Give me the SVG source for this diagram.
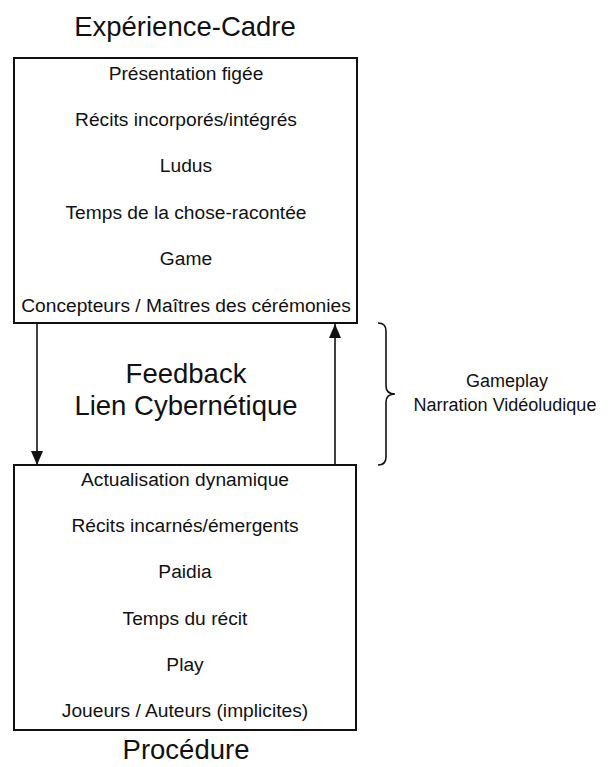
<svg xmlns="http://www.w3.org/2000/svg" width="608" height="767" viewBox="0 0 608 767">
<style>
text{font-family:"Liberation Sans",Arial,sans-serif;fill:#111;text-anchor:middle}
.item{font-size:19.2px}
.title{font-size:27.5px}
.side{font-size:18px}
.box{fill:#fff;stroke:#111;stroke-width:2}
.conn{stroke:#111;stroke-width:1.6;fill:none}
</style>
<defs>
<marker id="ah" viewBox="0 0 14 12" refX="14" refY="6" markerWidth="14" markerHeight="12" markerUnits="userSpaceOnUse" orient="auto">
<path d="M0,0 L14,6 L0,12 Z" fill="#111"/>
</marker>
</defs>
<rect width="608" height="767" fill="#fff"/>
<g id="top">
<text class="title" x="185" y="36">Expérience-Cadre</text>
<rect class="box" x="14" y="58" width="343" height="265"/>
<text class="item" x="186" y="80">Présentation figée</text>
<text class="item" x="186" y="126">Récits incorporés/intégrés</text>
<text class="item" x="186" y="172">Ludus</text>
<text class="item" x="186" y="219">Temps de la chose-racontée</text>
<text class="item" x="186" y="265">Game</text>
<text class="item" x="186" y="312">Concepteurs / Maîtres des cérémonies</text>
</g>
<g id="bottom">
<rect class="box" x="14" y="465" width="342" height="265"/>
<text class="item" x="185" y="486">Actualisation dynamique</text>
<text class="item" x="185" y="532">Récits incarnés/émergents</text>
<text class="item" x="185" y="578">Paidia</text>
<text class="item" x="185" y="625">Temps du récit</text>
<text class="item" x="185" y="671">Play</text>
<text class="item" x="185" y="717">Joueurs / Auteurs (implicites)</text>
<text class="title" x="186" y="759">Procédure</text>
</g>
<g id="feedback">
<text class="title" x="186" y="383">Feedback</text>
<text class="title" x="186" y="415">Lien Cybernétique</text>
</g>
<g id="gameplay">
<path class="conn" d="M378,323 Q386,323 386,331 L386,386 Q386,394 395,394 Q386,394 386,402 L386,457 Q386,465 378,465"/>
<text class="side" x="507" y="387">Gameplay</text>
<text class="side" x="505" y="411">Narration Vidéoludique</text>
</g>
<g id="connectors">
<line class="conn" x1="37" y1="324" x2="37" y2="465" marker-end="url(#ah)"/>
<line class="conn" x1="335" y1="465" x2="335" y2="324" marker-end="url(#ah)"/>
</g>
</svg>
